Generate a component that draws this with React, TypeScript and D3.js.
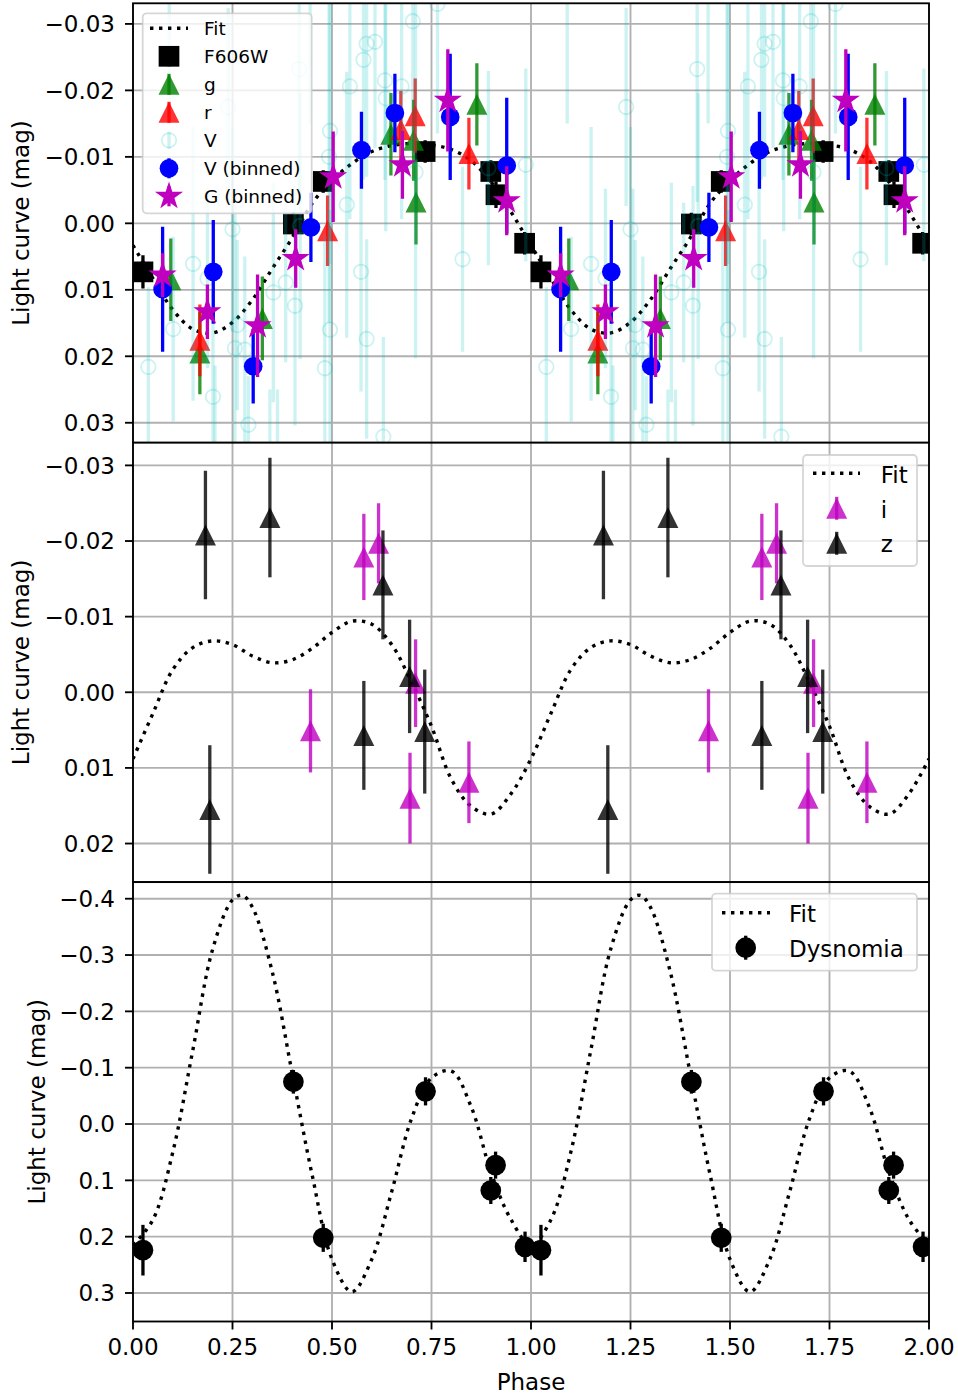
import React from 'react';
import * as d3 from 'd3';

// ---------- axis ticks ----------
const xTicks = [0, 0.25, 0.5, 0.75, 1.0, 1.25, 1.5, 1.75, 2.0];
const xTickLabels = ['0.00', '0.25', '0.50', '0.75', '1.00', '1.25', '1.50', '1.75', '2.00'];
const yTicks1 = [-0.03, -0.02, -0.01, 0, 0.01, 0.02, 0.03];
const yTickLabels1 = ['\u22120.03', '\u22120.02', '\u22120.01', '0.00', '0.01', '0.02', '0.03'];
const yTicks2 = [-0.03, -0.02, -0.01, 0, 0.01, 0.02];
const yTickLabels2 = ['\u22120.03', '\u22120.02', '\u22120.01', '0.00', '0.01', '0.02'];
const yTicks3 = [-0.4, -0.3, -0.2, -0.1, 0, 0.1, 0.2, 0.3];
const yTickLabels3 = ['\u22120.4', '\u22120.3', '\u22120.2', '\u22120.1', '0.0', '0.1', '0.2', '0.3'];

// ---------- panel 1 (phase, mag, err) for one cycle; drawn twice ----------
const fit1 = [
  [0.0, 0.0033], [0.05, 0.0083], [0.1, 0.013], [0.15, 0.0159], [0.2, 0.0165], [0.25, 0.0149],
  [0.3, 0.0115], [0.35, 0.0068], [0.4, 0.0022], [0.45, -0.003], [0.5, -0.0064], [0.55, -0.009],
  [0.6, -0.0108], [0.65, -0.0117], [0.7, -0.012], [0.75, -0.0118], [0.8, -0.0111], [0.85, -0.0094],
  [0.9, -0.0062], [0.95, -0.0017], [1.0, 0.0033],
];
const f606w = [
  [0.025, 0.0073, 0.0025], [0.403, 0.0001, 0.0017], [0.478, -0.0063, 0.0017], [0.734, -0.0108, 0.0017],
  [0.899, -0.0078, 0.0017], [0.912, -0.0043, 0.002], [0.984, 0.003, 0.0017],
];
const gBand = [
  [0.095, 0.0085, 0.0062], [0.168, 0.0195, 0.0062], [0.325, 0.0143, 0.0063], [0.648, -0.0134, 0.0062],
  [0.705, -0.0125, 0.0061], [0.711, -0.0032, 0.0064], [0.864, -0.0179, 0.0062],
];
const rBand = [
  [0.168, 0.0176, 0.0054], [0.489, 0.0011, 0.0053], [0.673, -0.0141, 0.0058], [0.709, -0.0162, 0.0056],
  [0.844, -0.0105, 0.0054],
];
const vSingle = [
  [0.0385, 0.0216, 0.012], [0.091, -0.036, 0.021], [0.101, 0.0159, 0.0139], [0.151, 0.0061, 0.0206],
  [0.187, 0.0083, 0.0135], [0.201, 0.0261, 0.016], [0.206, 0.042, 0.0206], [0.239, -0.0175, 0.0149],
  [0.25, 0.0009, 0.0154], [0.256, 0.0188, 0.024], [0.262, 0.0153, 0.0128], [0.281, 0.019, 0.014],
  [0.29, 0.0303, 0.0073], [0.344, 0.045, 0.02], [0.3526, 0.0104, 0.0165], [0.363, 0.043, 0.018],
  [0.3836, 0.0089, 0.012], [0.407, 0.0124, 0.018], [0.4175, -0.0232, 0.02], [0.42, 0.0004, 0.02],
  [0.445, -0.036, 0.021], [0.482, 0.0218, 0.02], [0.4925, -0.01, 0.025], [0.495, -0.0139, 0.02],
  [0.495, 0.016, 0.018], [0.537, -0.0028, 0.02], [0.545, -0.0206, 0.02], [0.573, 0.0073, 0.018],
  [0.579, -0.0246, 0.018], [0.587, -0.027, 0.02], [0.587, 0.0174, 0.015], [0.608, -0.0273, 0.016],
  [0.629, 0.0321, 0.015], [0.633, -0.0215, 0.015], [0.635, -0.0188, 0.02], [0.675, -0.0206, 0.02],
  [0.703, -0.0304, 0.02], [0.71, -0.0077, 0.028], [0.765, -0.033, 0.0195], [0.828, 0.0054, 0.0139],
  [0.893, -0.0083, 0.0146], [0.987, -0.0088, 0.0145],
];
const vBinned = [
  [0.0744, 0.0099, 0.0094], [0.2017, 0.0073, 0.0078], [0.302, 0.0215, 0.0056], [0.447, 0.0006, 0.0052],
  [0.574, -0.011, 0.0058], [0.658, -0.0166, 0.0059], [0.797, -0.016, 0.0095], [0.939, -0.0087, 0.0102],
];
const gBinned = [
  [0.0744, 0.0078, 0.0033], [0.187, 0.0133, 0.0041], [0.313, 0.0154, 0.0077], [0.4088, 0.0053, 0.0044],
  [0.503, -0.007, 0.0068], [0.677, -0.0088, 0.0051], [0.791, -0.0185, 0.0077], [0.939, -0.0034, 0.0052],
];

// ---------- panel 2 ----------
const fit2 = [
  [0.0, 0.0088], [0.05, 0.0028], [0.1, -0.003], [0.15, -0.0059], [0.2, -0.0068], [0.25, -0.0063],
  [0.3, -0.0048], [0.35, -0.0039], [0.4, -0.0043], [0.45, -0.0058], [0.5, -0.0079], [0.55, -0.0094],
  [0.6, -0.009], [0.65, -0.0063], [0.7, -0.0013], [0.75, 0.0045], [0.8, 0.0115], [0.85, 0.0151],
  [0.9, 0.0161], [0.95, 0.0134], [1.0, 0.0088],
];
const iBand = [
  [0.446, 0.0051, 0.0055], [0.58, -0.0179, 0.0057], [0.617, -0.0197, 0.0053], [0.71, -0.0012, 0.0058],
  [0.696, 0.014, 0.006], [0.844, 0.0119, 0.0054],
];
const zBand = [
  [0.182, -0.0208, 0.0085], [0.344, -0.0231, 0.0079], [0.193, 0.0155, 0.0085], [0.628, -0.0142, 0.0072],
  [0.58, 0.0057, 0.0072], [0.695, -0.0021, 0.0075], [0.733, 0.0052, 0.0082],
];

// ---------- panel 3 ----------
const fit3 = [
  [0.0, 0.215], [0.05, 0.17], [0.1, 0.05], [0.15, -0.13], [0.2, -0.31], [0.25, -0.398], [0.275, -0.406],
  [0.3, -0.385], [0.35, -0.27], [0.4, -0.09], [0.45, 0.09], [0.5, 0.24], [0.55, 0.298], [0.6, 0.24],
  [0.65, 0.12], [0.7, -0.01], [0.75, -0.082], [0.8, -0.094], [0.85, -0.03], [0.9, 0.087], [0.95, 0.17],
  [1.0, 0.215],
];
const dysnomia = [
  [0.025, 0.224, 0.045], [0.403, -0.075, 0.021], [0.478, 0.202, 0.025], [0.735, -0.058, 0.025],
  [0.899, 0.118, 0.024], [0.911, 0.073, 0.024], [0.985, 0.218, 0.027],
];

const FONT = 'DejaVu Sans, Verdana, sans-serif';
const X0 = 133, X1 = 929;
const P = [
  { top: 3.3, bottom: 442.7, domain: [-0.0331, 0.033] },
  { top: 442.7, bottom: 882.1, domain: [-0.033, 0.0251] },
  { top: 882.1, bottom: 1321.5, domain: [-0.4295, 0.3506] },
];
const LW = 3.3;
const GRID = '#b0b0b0';

function starPath(R: number) {
  const r = R * 0.381966;
  const pts: string[] = [];
  for (let k = 0; k < 10; k++) {
    const a = -Math.PI / 2 + (k * Math.PI) / 5;
    const rad = k % 2 === 0 ? R : r;
    pts.push(`${(rad * Math.cos(a)).toFixed(2)},${(rad * Math.sin(a)).toFixed(2)}`);
  }
  return 'M' + pts.join('L') + 'Z';
}

type MK = { type: string; size: number; color: string; opacity: number; hollow?: boolean };

function Marker({ cx, cy, m }: { cx: number; cy: number; m: MK }) {
  const s = m.size;
  if (m.type === 'circle') {
    return m.hollow ? (
      <circle cx={cx} cy={cy} r={s / 2} fill="none" stroke={m.color} strokeOpacity={m.opacity} strokeWidth={1.8} />
    ) : (
      <circle cx={cx} cy={cy} r={s / 2} fill={m.color} fillOpacity={m.opacity} />
    );
  }
  if (m.type === 'square') {
    return <rect x={cx - s / 2} y={cy - s / 2} width={s} height={s} fill={m.color} fillOpacity={m.opacity} />;
  }
  if (m.type === 'triangle') {
    const h = s / 2;
    return (
      <path d={`M${cx},${cy - h}L${cx + h},${cy + h}L${cx - h},${cy + h}Z`} fill={m.color} fillOpacity={m.opacity} />
    );
  }
  return <path transform={`translate(${cx},${cy})`} d={starPath(s / 2)} fill={m.color} fillOpacity={m.opacity} />;
}

function Series({ data, x, y, m }: any) {
  const pts = data.flatMap((d: number[]) => [d, [d[0] + 1, d[1], d[2]]]);
  return (
    <g>
      {pts.map((d: number[], i: number) => (
        <line key={'b' + i} x1={x(d[0])} x2={x(d[0])} y1={y(d[1] - d[2])} y2={y(d[1] + d[2])}
          stroke={m.color} strokeOpacity={m.opacity} strokeWidth={m.hollow ? LW : LW} />
      ))}
      {pts.map((d: number[], i: number) => (
        <Marker key={'m' + i} cx={x(d[0])} cy={y(d[1])} m={m} />
      ))}
    </g>
  );
}

function FitLine({ data, x, y }: any) {
  const full = [...data, ...data.slice(1).map((d: number[]) => [d[0] + 1, d[1]])];
  const gen = d3.line<number[]>().x((d) => x(d[0])).y((d) => y(d[1])).curve(d3.curveCatmullRom.alpha(0.5));
  return <path d={gen(full) || ''} fill="none" stroke="#000" strokeWidth={3.4} strokeDasharray="3.4 5.6" />;
}

function Legend({ box, rows, fs, lineX, markX, textX }: any) {
  return (
    <g>
      <rect x={box[0]} y={box[1]} width={box[2]} height={box[3]} rx={4} fill="#fff" fillOpacity={0.8}
        stroke="#cccccc" strokeOpacity={0.8} strokeWidth={1.8} />
      {rows.map((r: any, i: number) => (
        <g key={i}>
          {r.fit ? (
            <line x1={lineX[0]} x2={lineX[1]} y1={r.y} y2={r.y} stroke="#000" strokeWidth={3.4} strokeDasharray="3.4 5.6" />
          ) : (
            <g>
              <line x1={markX} x2={markX} y1={r.y - r.bar / 2} y2={r.y + r.bar / 2} stroke={r.m.color}
                strokeOpacity={r.m.opacity} strokeWidth={LW} />
              <Marker cx={markX} cy={r.y} m={r.m} />
            </g>
          )}
          <text x={textX} y={r.base} fontSize={fs} fontFamily={FONT} fill="#000">{r.label}</text>
        </g>
      ))}
    </g>
  );
}

function Axes({ idx, y, ticks, labels, labelX, showX, children }: any) {
  const p = P[idx];
  const x = d3.scaleLinear().domain([0, 2]).range([X0, X1]);
  return (
    <g>
      <defs>
        <clipPath id={'clip' + idx}>
          <rect x={X0} y={p.top} width={X1 - X0} height={p.bottom - p.top} />
        </clipPath>
      </defs>
      <rect x={X0} y={p.top} width={X1 - X0} height={p.bottom - p.top} fill="#fff" />
      {xTicks.map((t: number, i: number) => (
        <line key={'gx' + i} x1={x(t)} x2={x(t)} y1={p.top} y2={p.bottom} stroke={GRID} strokeWidth={1.85} />
      ))}
      {ticks.map((t: number, i: number) => (
        <line key={'gy' + i} x1={X0} x2={X1} y1={y(t)} y2={y(t)} stroke={GRID} strokeWidth={1.85} />
      ))}
      <g clipPath={`url(#clip${idx})`}>{children}</g>
      <rect x={X0} y={p.top} width={X1 - X0} height={p.bottom - p.top} fill="none" stroke="#000" strokeWidth={1.85} />
      {ticks.map((t: number, i: number) => (
        <g key={'ty' + i}>
          <line x1={X0 - 8} x2={X0} y1={y(t)} y2={y(t)} stroke="#000" strokeWidth={1.85} />
          <text x={115} y={y(t) + 8.4} textAnchor="end" fontSize={23} fontFamily={FONT} fill="#000">{labels[i]}</text>
        </g>
      ))}
      <text transform={`translate(${labelX},${(p.top + p.bottom) / 2}) rotate(-90)`} textAnchor="middle"
        fontSize={23} fontFamily={FONT} fill="#000">Light curve (mag)</text>
      {showX && xTicks.map((t: number, i: number) => (
        <g key={'tx' + i}>
          <line x1={x(t)} x2={x(t)} y1={p.bottom} y2={p.bottom + 8} stroke="#000" strokeWidth={1.85} />
          <text x={x(t)} y={1355} textAnchor="middle" fontSize={23} fontFamily={FONT} fill="#000">{xTickLabels[i]}</text>
        </g>
      ))}
      {showX && (
        <text x={(X0 + X1) / 2} y={1390} textAnchor="middle" fontSize={23} fontFamily={FONT} fill="#000">Phase</text>
      )}
    </g>
  );
}

export default function App() {
  const x = d3.scaleLinear().domain([0, 2]).range([X0, X1]);
  const y1 = d3.scaleLinear().domain(P[0].domain).range([P[0].top, P[0].bottom]);
  const y2 = d3.scaleLinear().domain(P[1].domain).range([P[1].top, P[1].bottom]);
  const y3 = d3.scaleLinear().domain(P[2].domain).range([P[2].top, P[2].bottom]);

  const mF = { type: 'square', size: 20.7, color: '#000', opacity: 1 };
  const mG = { type: 'triangle', size: 21, color: '#008000', opacity: 0.8 };
  const mR = { type: 'triangle', size: 21, color: '#ff0000', opacity: 0.8 };
  const mV = { type: 'circle', size: 14.5, color: '#00bfbf', opacity: 0.2, hollow: true };
  const mVB = { type: 'circle', size: 18.7, color: '#0000ff', opacity: 1 };
  const mGB = { type: 'star', size: 29.6, color: '#bf00bf', opacity: 1 };
  const mI = { type: 'triangle', size: 21, color: '#bf00bf', opacity: 0.8 };
  const mZ = { type: 'triangle', size: 21, color: '#000', opacity: 0.8 };
  const mD = { type: 'circle', size: 20.7, color: '#000', opacity: 1 };

  const rows1 = [
    { fit: true, label: 'Fit' },
    { m: mF, label: 'F606W', bar: 20 },
    { m: mG, label: 'g', bar: 21 },
    { m: mR, label: 'r', bar: 21 },
    { m: mV, label: 'V', bar: 17 },
    { m: mVB, label: 'V (binned)', bar: 20 },
    { m: mGB, label: 'G (binned)', bar: 20 },
  ].map((r: any, i) => ({ ...r, y: 28.3 + 28 * i, base: 28.3 + 28 * i + 6.7 }));

  const rows2 = [
    { fit: true, label: 'Fit', y: 473.3, base: 482.7 },
    { m: mI, label: 'i', y: 508.3, base: 517.5, bar: 23 },
    { m: mZ, label: 'z', y: 543.3, base: 552, bar: 23 },
  ];
  const rows3 = [
    { fit: true, label: 'Fit', y: 912.7, base: 921.7 },
    { m: mD, label: 'Dysnomia', y: 947.7, base: 956.7, bar: 24 },
  ];

  return (
    <svg width={958} height={1394} style={{ position: 'absolute', left: 0, top: 0, background: '#fff' }}
      xmlns="http://www.w3.org/2000/svg">
      <rect x={0} y={0} width={958} height={1394} fill="#fff" />
      <Axes idx={0} y={y1} ticks={yTicks1} labels={yTickLabels1} labelX={28.5} showX={false}>
        <FitLine data={fit1} x={x} y={y1} />
        <Series data={f606w} x={x} y={y1} m={mF} />
        <Series data={gBand} x={x} y={y1} m={mG} />
        <Series data={rBand} x={x} y={y1} m={mR} />
        <Series data={vSingle} x={x} y={y1} m={mV} />
        <Series data={vBinned} x={x} y={y1} m={mVB} />
        <Series data={gBinned} x={x} y={y1} m={mGB} />
      </Axes>
      <Legend box={[142.7, 13.3, 169, 200]} rows={rows1} fs={18.5} lineX={[150, 188]} markX={169} textX={204} />

      <Axes idx={1} y={y2} ticks={yTicks2} labels={yTickLabels2} labelX={28.5} showX={false}>
        <FitLine data={fit2} x={x} y={y2} />
        <Series data={iBand} x={x} y={y2} m={mI} />
        <Series data={zBand} x={x} y={y2} m={mZ} />
      </Axes>
      <Legend box={[803, 455, 114, 111]} rows={rows2} fs={23} lineX={[813, 860]} markX={836.7} textX={880.7} />

      <Axes idx={2} y={y3} ticks={yTicks3} labels={yTickLabels3} labelX={45} showX={true}>
        <FitLine data={fit3} x={x} y={y3} />
        <Series data={dysnomia} x={x} y={y3} m={mD} />
      </Axes>
      <Legend box={[712, 893.7, 205, 77]} rows={rows3} fs={23} lineX={[722, 770]} markX={745.7} textX={789} />
    </svg>
  );
}
